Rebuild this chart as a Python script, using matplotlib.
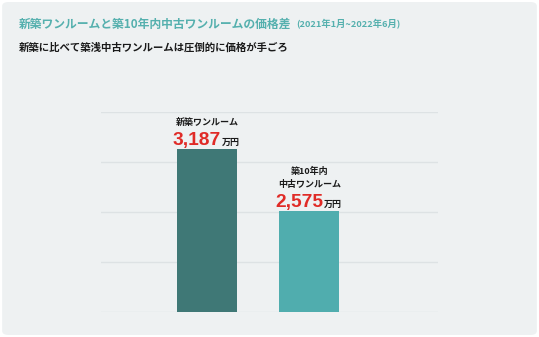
import matplotlib.pyplot as plt
import numpy as np
from matplotlib.patches import FancyBboxPatch

plt.rcParams['font.family'] = ['Noto Sans CJK JP', 'DejaVu Sans']

# price comparison (万円)
categories = ['新築ワンルーム', '築10年内\n中古ワンルーム']
prices = [3187, 2575]
bar_colors = ['#3f7876', '#50adae']
title = '新築ワンルームと築10年内中古ワンルームの価格差'
period = '(2021年1月~2022年6月)'
subtitle = '新築に比べて築浅中古ワンルームは圧倒的に価格が手ごろ'

fig = plt.figure(figsize=(5.39, 3.37), dpi=100)
fig.patch.set_facecolor('white')

# rounded card background
card = FancyBboxPatch((0.004, 0.006), 0.992, 0.988,
                      boxstyle='round,pad=0,rounding_size=0.012',
                      transform=fig.transFigure, facecolor='#eef1f2',
                      edgecolor='none', zorder=-10)
fig.patches.append(card)

fig.text(19 / 539, 1 - 24 / 337, title, fontsize=8.5, fontweight='bold',
         color='#55b0ae', va='center', ha='left')
fig.text(296 / 539, 1 - 24.5 / 337, period, fontsize=6.7, fontweight='bold',
         color='#55b0ae', va='center', ha='left')
fig.text(19 / 539, 1 - 48 / 337, subtitle, fontsize=7.5, fontweight='bold',
         color='#1a1a1a', va='center', ha='left')

ax = fig.add_axes([101 / 539, 25 / 337, 337 / 539, 200 / 337])
ax.set_facecolor('none')

x = np.arange(len(prices))
ax.bar(x, prices, width=0.59, color=bar_colors, zorder=2)

ymin, ymax = 1578, 3552
ax.set_ylim(ymin, ymax)
ax.set_xlim(-1.04, 2.26)
for gy in np.linspace(ymin, ymax, 5):
    ax.axhline(gy, color='#dde2e4', linewidth=1, zorder=1)

for xi, val, name in zip(x, prices, categories):
    num = f'{val:,}'
    ax.annotate(num, (xi, val), xytext=(14, 4), textcoords='offset pixels',
                ha='right', va='baseline', fontsize=13.8, fontweight='bold',
                family=['Liberation Sans', 'DejaVu Sans'],
                color='#e02b27', annotation_clip=False)
    ax.annotate('万円', (xi, val), xytext=(15, 4), textcoords='offset pixels',
                ha='left', va='baseline', fontsize=6.5, fontweight='bold',
                color='#1a1a1a', annotation_clip=False)
    ax.annotate(name, (xi, val), xytext=(0, 24), textcoords='offset pixels',
                ha='center', va='baseline', fontsize=6.5, fontweight='bold',
                color='#1a1a1a', linespacing=1.55, annotation_clip=False)

ax.set_xticks([])
ax.set_yticks([])
for s in ax.spines.values():
    s.set_visible(False)

fig.savefig('out.png', dpi=100, facecolor='white')
